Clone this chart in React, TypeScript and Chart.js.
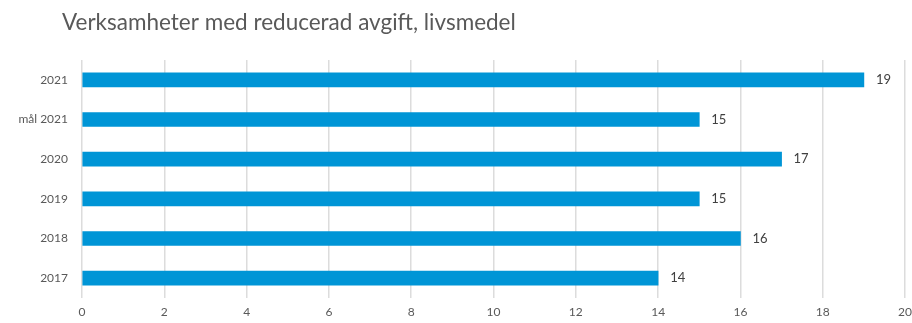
import React, { useEffect, useRef } from "react";
import { Chart, registerables } from "chart.js";

Chart.register(...registerables);

const TITLE = "Verksamheter med reducerad avgift, livsmedel";
const categories = ["2021", "mål 2021", "2020", "2019", "2018", "2017"];
const values = [19, 15, 17, 15, 16, 14];
const xMin = 0;
const xMax = 20;
const xStep = 2;

const FONT = "Lato, 'Open Sans', sans-serif";
const BAR_COLOR = "#0095d6";

// Title text drawn at the top-left of the canvas
const titlePlugin = {
  id: "titleText",
  afterDraw(chart: any) {
    const ctx = chart.ctx;
    ctx.save();
    ctx.font = `22.5px ${FONT}`;
    ctx.fillStyle = "#595959";
    ctx.textAlign = "left";
    ctx.textBaseline = "middle";
    ctx.fillText(TITLE, 62, 23);
    ctx.restore();
  },
};

// Value labels placed just past the end of each bar
const valueLabels = {
  id: "valueLabels",
  afterDatasetsDraw(chart: any) {
    const ctx = chart.ctx;
    const meta = chart.getDatasetMeta(0);
    ctx.save();
    ctx.font = `13px ${FONT}`;
    ctx.fillStyle = "#404040";
    ctx.textAlign = "left";
    ctx.textBaseline = "middle";
    meta.data.forEach((bar: any, i: number) => {
      ctx.fillText(String(values[i]), bar.x + 12, bar.y);
    });
    ctx.restore();
  },
};

export default function App() {
  const canvasRef = useRef<HTMLCanvasElement | null>(null);

  useEffect(() => {
    document.body.style.margin = "0";
    const canvas = canvasRef.current;
    if (!canvas) return;
    const chart = new Chart(canvas, {
      type: "bar",
      data: {
        labels: categories,
        datasets: [
          {
            data: values,
            backgroundColor: BAR_COLOR,
            barThickness: 14,
          },
        ],
      },
      options: {
        indexAxis: "y",
        animation: false,
        responsive: false,
        maintainAspectRatio: false,
        layout: { padding: { top: 60, right: 0, bottom: 0, left: 0 } },
        plugins: {
          legend: { display: false },
          title: { display: false },
          tooltip: { enabled: false },
        },
        scales: {
          x: {
            min: xMin,
            max: xMax,
            ticks: {
              stepSize: xStep,
              padding: 0,
              color: "#595959",
              font: { family: FONT, size: 12 },
            },
            grid: {
              color: "#dcdcdc",
              lineWidth: 1.5,
              drawTicks: true,
              tickLength: 7,
              tickColor: "rgba(0,0,0,0)",
            },
            border: { display: false },
            afterFit(scale: any) {
              scale.height = 25;
            },
          },
          y: {
            ticks: {
              padding: 14,
              color: "#595959",
              font: { family: FONT, size: 12 },
            },
            grid: { display: false, drawTicks: false },
            border: { display: false },
            afterFit(scale: any) {
              scale.width = 82;
            },
          },
        },
      },
      plugins: [titlePlugin, valueLabels],
    });
    return () => chart.destroy();
  }, []);

  return (
    <div style={{ width: 912, height: 323 }}>
      <canvas ref={canvasRef} width={912} height={323} style={{ display: "block" }} />
    </div>
  );
}
